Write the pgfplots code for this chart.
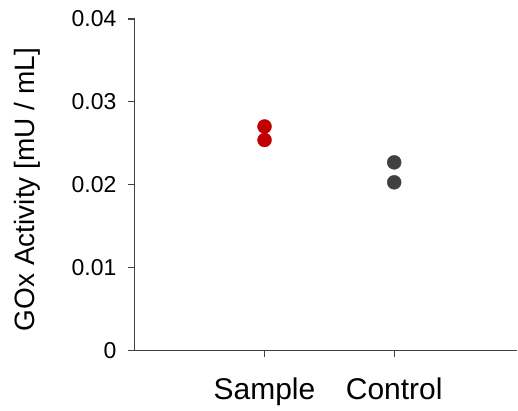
\documentclass[border=0pt]{standalone}
\usepackage{pgfplots}
\pgfplotsset{compat=1.18}
\usepackage{fontspec}
\setmainfont{Liberation Sans}
\definecolor{colorSample}{RGB}{192, 0, 0}
\definecolor{colorControl}{RGB}{64, 64, 64}
\definecolor{colorAxis}{RGB}{64, 64, 64}

\begin{document}
\begin{tikzpicture}
    \begin{axis}[
        scale only axis,
        width        = 383pt,
        height       = 331.7pt,
        xmin = 0, xmax = 2.95,
        ymin = 0, ymax = 0.04,
        scaled y ticks = false,
        axis lines   = left,
        axis line style = {-, draw=colorAxis, line width=1.2pt},
        tick align   = outside,
        major tick length = 7pt,
        xtick style  = {draw=colorAxis, line width=1.2pt},
        ytick style  = {draw=colorAxis, line width=1.2pt},
        xtick        = {1, 2},
        xticklabels  = {Sample, Control},
        ytick        = {0, 0.01, 0.02, 0.03, 0.04},
        yticklabels  = {0, 0.01, 0.02, 0.03, 0.04},
        x tick label style = {font=\fontsize{30}{34}\selectfont, yshift=-17pt},
        y tick label style = {font=\fontsize{23}{27}\selectfont, xshift=-8pt},
        ylabel       = {GOx Activity [mU / mL]},
        ylabel style = {font=\fontsize{28}{32}\selectfont,
                        at={(axis description cs:-0.28,0.485)}, anchor=center},
        clip = false,
    ]
        % Sample replicates
        \addplot[only marks, mark=*, mark size=7pt,
                 mark options={fill=colorSample, draw=colorSample}]
            coordinates {(1, 0.02702) (1, 0.02539)};
        % Control replicates
        \addplot[only marks, mark=*, mark size=7pt,
                 mark options={fill=colorControl, draw=colorControl}]
            coordinates {(2, 0.02269) (2, 0.02028)};
        % y tick marks drawn by hand (the axis ones do not show here)
        \draw[colorAxis, line width=1.2pt] (axis cs:0,0)    -- ++(-7pt,0);
        \draw[colorAxis, line width=1.2pt] (axis cs:0,0.01) -- ++(-7pt,0);
        \draw[colorAxis, line width=1.2pt] (axis cs:0,0.02) -- ++(-7pt,0);
        \draw[colorAxis, line width=1.2pt] (axis cs:0,0.03) -- ++(-7pt,0);
        \draw[colorAxis, line width=1.2pt] (axis cs:0,0.04) -- ++(-7pt,0);
        % page margins as in the reference
        \path (rel axis cs:0,0) ++(-135pt,-60pt);
        \path (rel axis cs:1,1) ++(0pt,19pt);
    \end{axis}
\end{tikzpicture}
\end{document}
